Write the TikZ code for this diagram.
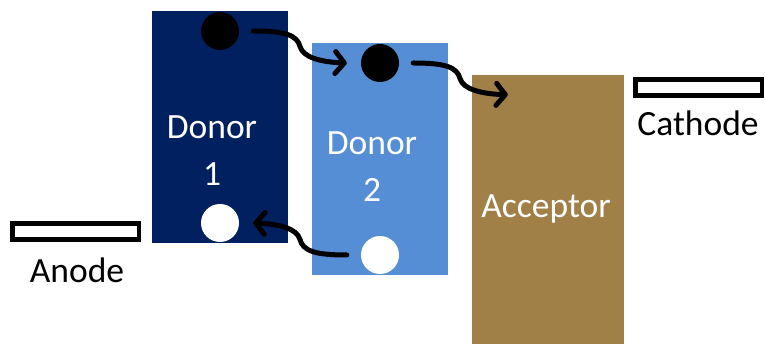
\documentclass[tikz,border=0pt]{standalone}
\usepackage{fontspec}
\setmainfont{Carlito}
\usetikzlibrary{arrows.meta}
\definecolor{donorone}{HTML}{002060}
\definecolor{donortwo}{HTML}{558ED5}
\definecolor{acceptorc}{HTML}{A08046}
\tikzset{
  layer/.style={rectangle, inner sep=0pt, draw=none},
  electrode/.style={rectangle, draw=black, fill=white, line width=4.5pt,
                    minimum width=126.5pt, minimum height=16pt, inner sep=0pt},
  carrier/.style={circle, minimum size=38pt, inner sep=0pt, draw=none},
  electron/.style={carrier, fill=black},
  hole/.style={carrier, fill=white},
  label/.style={font=\fontsize{35.5}{47}\selectfont, align=center, anchor=base, inner sep=0pt},
  hop/.style={line width=5pt, line cap=round,
              -{Straight Barb[length=9pt,width=22pt,round]}}
}
\begin{document}
\begin{tikzpicture}[x=1pt,y=-1pt]
  \useasboundingbox (0,0) rectangle (765,344);

  % energy levels
  \node[layer, fill=donorone, minimum width=136pt, minimum height=232pt] (d1) at (220,127) {};
  \node[layer, fill=donortwo, minimum width=136pt, minimum height=232pt] (d2) at (380,159) {};
  \node[layer, fill=acceptorc, minimum width=152pt, minimum height=272pt] (acc) at (548,211) {};

  % electrodes
  \node[electrode] (anode) at (75.5,231.5) {};
  \node[electrode] (cathode) at (698.5,87.5) {};

  % texts (a two-line node sits on the baseline of its last line)
  \node[label, text=white] at (212,186) {Donor\\1};
  \node[label, text=white] at (372,202) {Donor\\2};
  \node[label, text=white] at (546,218) {Acceptor};
  \node[label] at (77,283) {Anode};
  \node[label] at (698,136) {Cathode};

  % charge carriers
  \node[electron] (e1) at (220,31) {};
  \node[electron] (e2) at (380,63) {};
  \node[hole] (h1) at (220,223) {};
  \node[hole] (h2) at (380,255) {};

  \coordinate (inacc) at ([shift={(36,20)}]acc.north west);

  % electron transfer
  \draw[hop] ([xshift=14pt]e1.east) .. controls +(32,0) and +(-3,-12) .. ++(47,16)
             .. controls +(3,10) and +(-27,-1) .. ([xshift=-14pt]e2.west);
  \draw[hop] ([xshift=14pt]e2.east) .. controls +(32,0) and +(-3,-12) .. ++(47,16)
             .. controls +(3,10) and +(-27,-1) .. (inacc);
  % hole transfer
  \draw[hop] ([xshift=-14pt]h2.west) .. controls +(-32,0) and +(3,12) .. ++(-47,-16)
             .. controls +(-3,-10) and +(27,1) .. ([xshift=14pt]h1.east);
\end{tikzpicture}
\end{document}
